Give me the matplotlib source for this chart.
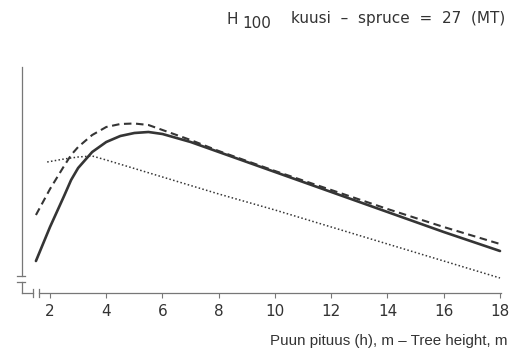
import matplotlib
matplotlib.use("Agg")
import matplotlib.pyplot as plt
from matplotlib.lines import Line2D

plt.rcParams['font.family'] = ['Liberation Sans', 'DejaVu Sans']

# Data (y in arbitrary units; the chart has no y-axis labels)
solid_x = [1.5, 2.0, 2.5, 2.75, 3.0, 3.5, 4.0, 4.5, 5.0, 5.5, 6.0, 7.0, 8.0, 10.0, 12.0, 14.0, 16.0, 18.0]
solid_y = [32, 66, 97, 113, 125, 141, 151, 157, 160, 161, 159, 151, 141, 121, 101, 81, 61, 42]

dashed_x = [1.5, 2.0, 2.5, 2.75, 3.0, 3.5, 4.0, 4.5, 5.0, 5.5, 6.0, 7.0, 8.0, 10.0, 12.0, 14.0, 16.0, 18.0]
dashed_y = [78, 104, 127, 138, 146, 158, 166, 169, 169.5, 168, 163, 153, 142, 122, 103, 84, 66, 49]

dotted_x = [1.9, 2.5, 3.0, 3.5, 4.0, 6.0, 8.0, 10.0, 12.0, 14.0, 16.0, 18.0]
dotted_y = [131, 134, 136, 137, 133, 116, 99, 83, 66, 49, 32, 15]

xticks = [2, 4, 6, 8, 10, 12, 14, 16, 18]
xlabel = "Puun pituus (h), m \u2013 Tree height, m"
title_main = "kuusi  \u2013  spruce  =  27  (MT)"

W, H = 521, 351
fig = plt.figure(figsize=(W / 100, H / 100), dpi=100)

def fx(px):
    return px / W

def fy(py):
    return 1 - py / H

ax_left, ax_right, ax_top, ax_bot = 21, 500, 67, 293
ax = fig.add_axes([fx(ax_left), fy(ax_bot), fx(ax_right) - fx(ax_left), fy(ax_top) - fy(ax_bot)])
ax.patch.set_alpha(0)

x_at_2, px_per = 50.0, (500.0 - 50.0) / 16.0
ax.set_xlim(2 - (x_at_2 - ax_left) / px_per, 18)
ax.set_ylim(0, ax_bot - ax_top)

lc = '#353535'
ax.plot(solid_x, solid_y, color=lc, lw=1.9, solid_capstyle='round', clip_on=False)
ax.plot(dashed_x, dashed_y, color=lc, lw=1.5, linestyle=(0, (3.6, 2.2)), clip_on=False)
ax.plot(dotted_x, dotted_y, color=lc, lw=1.1, linestyle=(0, (1.0, 1.5)), clip_on=False)

for s in ax.spines.values():
    s.set_visible(False)

ax.set_yticks([])
ax.set_xticks(xticks)
ax.set_xticklabels([str(t) for t in xticks], family=['DejaVu Sans'])
ax.tick_params(axis='x', direction='out', length=3.6, width=0.8, color='#777777',
               labelsize=11, labelcolor='#333333', pad=4.5)

axc = '#777777'
alw = 0.9

def fline(x0, y0, x1, y1):
    fig.add_artist(Line2D([fx(x0), fx(x1)], [fy(y0), fy(y1)], color=axc, lw=alw,
                          transform=fig.transFigure))

# y axis with break
fline(21.5, 67, 21.5, 276)
fline(17, 276, 25, 276)
fline(17, 282, 25, 282)
fline(21.5, 282, 21.5, 293)
# x axis with break
fline(21.5, 293, 33, 293)
fline(33, 289, 33, 297)
fline(38.5, 289, 38.5, 297)
fline(38.5, 293, 500.5, 293)

tc = '#333333'
# x label
fig.text(fx(508), fy(345), xlabel, ha='right', va='baseline', fontsize=10.9, color=tc)

# title with subscript
dv = ['DejaVu Sans']
fig.text(fx(232), fy(23.5), "H", ha='center', va='baseline', fontsize=11, color=tc, family=dv)
fig.text(fx(256.5), fy(27.5), "100", ha='center', va='baseline', fontsize=11, color=tc, family=dv)
fig.text(fx(505), fy(23.5), title_main, ha='right', va='baseline', fontsize=11, color=tc, family=dv)

fig.savefig("out.png", dpi=100)
